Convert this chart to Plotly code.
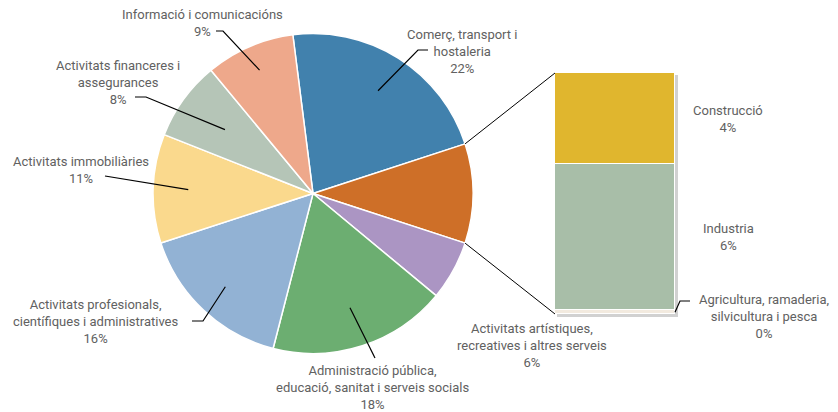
import math
import plotly.graph_objects as go

W, H = 838, 412

# ---------------- data ----------------
pie_labels = [
    "Comerç, transport i<br>hostaleria",
    "Construcció, Industria i Agricultura",
    "Activitats artístiques,<br>recreatives i altres serveis",
    "Administració pública,<br>educació, sanitat i serveis socials",
    "Activitats profesionals,<br>científiques i administratives",
    "Activitats immobiliàries",
    "Activitats financeres i<br>assegurances",
    "Informació i comunicacións",
]
bar_labels = ["Agricultura, ramaderia,<br>silvicultura i pesca", "Industria", "Construcció"]
bar_values = [0.15, 6.1, 3.8]
other_values = [22, 6, 18, 16, 11, 8, 9]  # pie slices other than the split one
pie_values = [other_values[0], sum(bar_values)] + other_values[1:]

pie_colors = ["#4181AD", "#CE6F28", "#AB95C3", "#6CAE71", "#92B2D4", "#FAD98D", "#B5C5B7", "#EEA88B"]
bar_colors = ["#F2EADF", "#A8BEA8", "#E0B62E"]

# ---------------- geometry (layout) ----------------
CX, CY, R = 313, 193.5, 160
BX0, BX1, BY0, BY1 = 555, 675, 73, 314

def px(x):
    return x / W

def py(y):
    return 1 - y / H

total = sum(pie_values)
split_idx = 1
# rotate so that the split slice is centred at 3 o'clock
rotation = 90 - (sum(pie_values[:split_idx]) + pie_values[split_idx] / 2) / total * 360

fig = go.Figure()
fig.add_trace(go.Pie(
    labels=pie_labels, values=pie_values, sort=False, direction="clockwise",
    rotation=rotation, marker=dict(colors=pie_colors, line=dict(color="white", width=1.5)),
    textinfo="none", hoverinfo="label+percent", showlegend=False,
    domain=dict(x=[px(CX - R), px(CX + R)], y=[py(CY + R), py(CY - R)]),
))

for lab, v, c in zip(bar_labels, bar_values, bar_colors):
    fig.add_trace(go.Bar(
        x=[0], y=[v], name=lab, marker=dict(color=c, line=dict(color="white", width=1)),
        width=1, showlegend=False, xaxis="x", yaxis="y",
    ))

TEXT_COLOR = "#616161"
FONT = dict(family="Roboto", size=13, color=TEXT_COLOR)

def pct(v):
    return f"{round(v / total * 100)}%"

annotations = []
shapes = []

def line_path(points, color="black", width=1):
    d = "M " + " L ".join(f"{px(x)},{py(y)}" for x, y in points)
    shapes.append(dict(type="path", path=d, xref="paper", yref="paper",
                       line=dict(color=color, width=width)))

def label(text, x, y):
    annotations.append(dict(text=text, x=px(x), y=py(y), xref="paper", yref="paper",
                            showarrow=False, font=FONT, align="center",
                            xanchor="center", yanchor="middle"))

# label positions (centre of text block) and leader elbows, per pie slice
pie_label_layout = {
    0: dict(pos=(462, 51), leader=[(428, 50), (418, 50)], rf=0.76),
    2: dict(pos=(532, 345), leader=None, rf=None),
    3: dict(pos=(372, 387), leader=[(375, 358)], rf=0.75),
    4: dict(pos=(95, 321), leader=[(192, 321), (203, 321)], rf=0.80),
    5: dict(pos=(81, 170), leader=[(105, 176)], rf=0.78),
    6: dict(pos=(118, 82), leader=[(135, 97), (146, 97)], rf=0.68),
    7: dict(pos=(202, 23), leader=[(216, 31), (223, 31)], rf=0.84),
}

cum = 0
angles = []
for v in pie_values:
    a0 = rotation + cum / total * 360
    cum += v
    a1 = rotation + cum / total * 360
    angles.append((a0, a1))

for i, lay in pie_label_layout.items():
    label(f"{pie_labels[i]}<br>{pct(pie_values[i])}", *lay["pos"])
    if lay["leader"]:
        a0, a1 = angles[i]
        mid = math.radians((a0 + a1) / 2)
        r = R * lay["rf"]
        end = (CX + r * math.sin(mid), CY - r * math.cos(mid))
        line_path(lay["leader"] + [end], width=1.2)

# connector lines from split slice to bar
a0, a1 = angles[split_idx]
p0 = (CX + R * math.sin(math.radians(a0)), CY - R * math.cos(math.radians(a0)))
p1 = (CX + R * math.sin(math.radians(a1)), CY - R * math.cos(math.radians(a1)))
line_path([p0, (BX0, BY0)], width=1)
line_path([p1, (BX0, BY1)], width=1)

# bar labels
bar_total = sum(bar_values)
cum = 0
bar_label_x = {0: 764, 1: 728, 2: 728}
for i, (lab, v) in enumerate(zip(bar_labels, bar_values)):
    y_mid = BY1 - (cum + v / 2) / bar_total * (BY1 - BY0)
    cum += v
    if i == 0:
        label(f"{lab}<br>{pct(v)}", bar_label_x[i], 316)
        line_path([(690, 301), (680, 301), (BX1, y_mid)], width=1.2)
    else:
        label(f"{lab}<br>{pct(v)}", bar_label_x[i], y_mid)

# subtle bar shadow
shapes.insert(0, dict(type="rect", xref="paper", yref="paper",
                      x0=px(BX0 + 2), x1=px(BX1 + 3), y0=py(BY1 + 3), y1=py(BY0 + 2),
                      fillcolor="rgba(0,0,0,0.18)", line=dict(width=0), layer="below"))

fig.update_layout(
    width=W, height=H, margin=dict(l=0, r=0, t=0, b=0),
    paper_bgcolor="white", plot_bgcolor="rgba(0,0,0,0)",
    barmode="stack", bargap=0,
    xaxis=dict(domain=[px(BX0), px(BX1)], range=[-0.5, 0.5], visible=False, fixedrange=True),
    yaxis=dict(domain=[py(BY1), py(BY0)], range=[0, bar_total], visible=False, fixedrange=True),
    annotations=annotations, shapes=shapes, showlegend=False,
)

fig.write_html("out.html", config={"displayModeBar": False},
               post_script="document.body.style.margin='0px';")
